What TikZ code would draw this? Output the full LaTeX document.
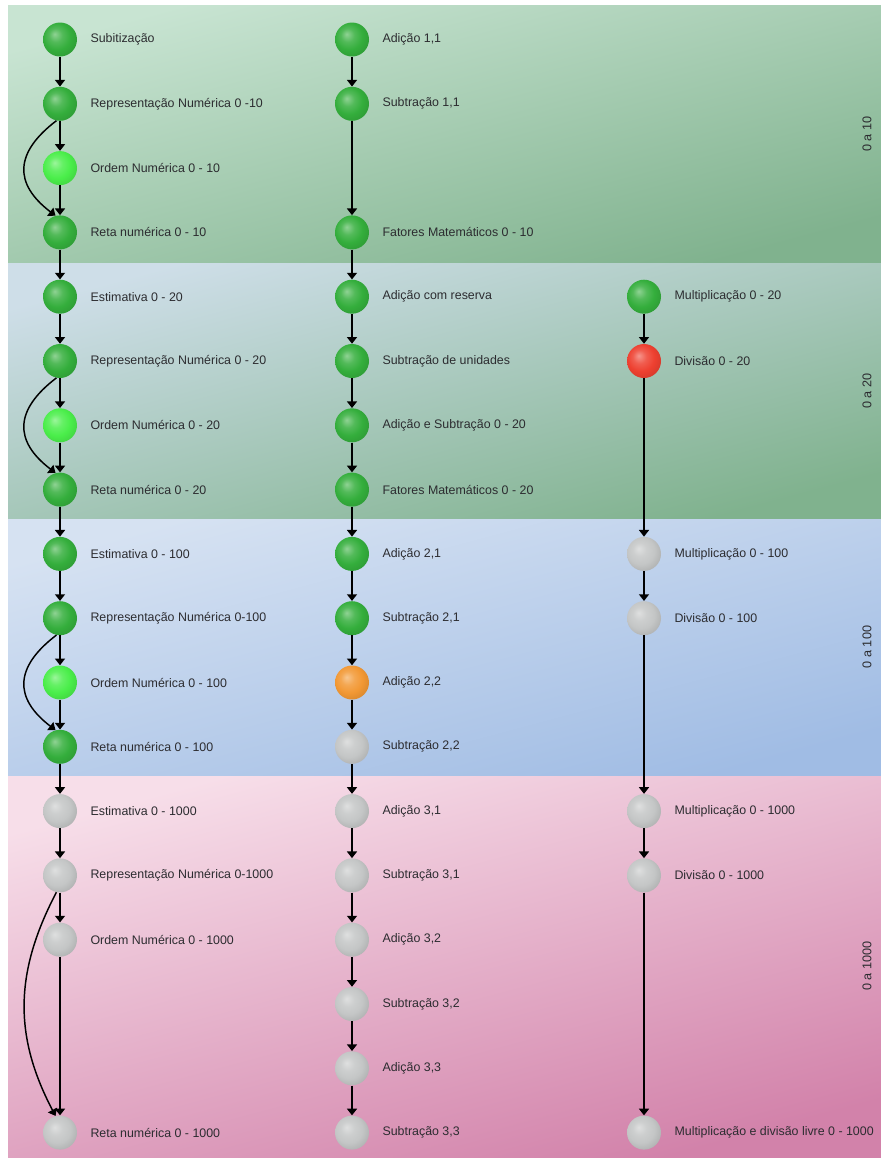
\documentclass[tikz,border=0pt]{standalone}
\usepackage{fontspec}
\setmainfont{Liberation Sans}
\usetikzlibrary{arrows.meta}

% node fill colours
\definecolor{ndgreen}{RGB}{52,174,60}
\definecolor{ndlime}{RGB}{74,238,74}
\definecolor{ndred}{RGB}{238,64,48}
\definecolor{ndorange}{RGB}{242,152,52}
\definecolor{ndgray}{RGB}{196,198,198}
\definecolor{txtgray}{RGB}{44,44,48}
% band gradients
\definecolor{bAtop}{RGB}{200,228,210}
\definecolor{bAbot}{RGB}{128,178,142}
\definecolor{bBtop}{RGB}{206,222,232}
\definecolor{bBbot}{RGB}{128,178,142}
\definecolor{bCtop}{RGB}{214,226,242}
\definecolor{bCbot}{RGB}{160,188,228}
\definecolor{bDtop}{RGB}{247,222,233}
\definecolor{bDbot}{RGB}{210,130,170}

% soft sphere shading that follows the colour "nodecol"
\colorlet{nodecol}{gray}
\pgfdeclareradialshading[nodecol]{softball}{\pgfqpoint{-8bp}{8bp}}{%
  color(0bp)=(nodecol!55!white);
  color(10bp)=(nodecol!85!white);
  color(20bp)=(nodecol);
  color(30bp)=(nodecol!90!black);
  color(50bp)=(nodecol!75!black)}

% a circle plus its text to the right
\newcommand\mknode[5]{%
  \node[ball=#4] (#1) at (#2,{39.5+64.3*#3}) {};
  \node[lbl] (#1-t) at ([xshift=9.75pt]#1.east) {#5};}

\begin{document}
\begin{tikzpicture}[x=0.75pt,y=-0.75pt,
  nodecolor/.code={\colorlet{nodecol}{#1}},
  ball/.style={circle, draw=none, minimum size=25.5pt, inner sep=0pt,
    nodecolor=#1, shading=softball, shade},
  lbl/.style={anchor=west, inner sep=0pt, text=txtgray,
    font=\fontsize{9.3}{11}\selectfont},
  bandlbl/.style={rotate=90, inner sep=0pt, text=txtgray,
    font=\fontsize{9.5}{11}\selectfont},
  arr/.style={draw=black, line width=1.1pt,
    -{Triangle[width=7.5pt,length=5pt]}},
]
\useasboundingbox (0,0) rectangle (881,1158);
\fill[white] (0,0) rectangle (881,1158);

% level bands
\path[top color=bAtop, bottom color=bAbot, shading angle=15] (8,5) rectangle (881,263);
\path[top color=bBtop, bottom color=bBbot, shading angle=15] (8,263) rectangle (881,519);
\path[top color=bCtop, bottom color=bCbot, shading angle=15] (8,519) rectangle (881,776);
\path[top color=bDtop, bottom color=bDbot, shading angle=15] (8,776) rectangle (881,1157);

\node[bandlbl] (lvA) at (867,134) {0 a 10};
\node[bandlbl] (lvB) at (867,391) {0 a 20};
\node[bandlbl] (lvC) at (867,647) {0 a 100};
\node[bandlbl] (lvD) at (867,966) {0 a 1000};

% first column
\mknode{sub}{60}{0}{ndgreen}{Subitização}
\mknode{rep10}{60}{1}{ndgreen}{Representação Numérica 0 -10}
\mknode{ord10}{60}{2}{ndlime}{Ordem Numérica 0 - 10}
\mknode{ret10}{60}{3}{ndgreen}{Reta numérica 0 - 10}
\mknode{est20}{60}{4}{ndgreen}{Estimativa 0 - 20}
\mknode{rep20}{60}{5}{ndgreen}{Representação Numérica 0 - 20}
\mknode{ord20}{60}{6}{ndlime}{Ordem Numérica 0 - 20}
\mknode{ret20}{60}{7}{ndgreen}{Reta numérica 0 - 20}
\mknode{est100}{60}{8}{ndgreen}{Estimativa 0 - 100}
\mknode{rep100}{60}{9}{ndgreen}{Representação Numérica 0-100}
\mknode{ord100}{60}{10}{ndlime}{Ordem Numérica 0 - 100}
\mknode{ret100}{60}{11}{ndgreen}{Reta numérica 0 - 100}
\mknode{est1000}{60}{12}{ndgray}{Estimativa 0 - 1000}
\mknode{rep1000}{60}{13}{ndgray}{Representação Numérica 0-1000}
\mknode{ord1000}{60}{14}{ndgray}{Ordem Numérica 0 - 1000}
\mknode{ret1000}{60}{17}{ndgray}{Reta numérica 0 - 1000}

% second column
\mknode{ad11}{352}{0}{ndgreen}{Adição 1,1}
\mknode{su11}{352}{1}{ndgreen}{Subtração 1,1}
\mknode{fat10}{352}{3}{ndgreen}{Fatores Matemáticos 0 - 10}
\mknode{adres}{352}{4}{ndgreen}{Adição com reserva}
\mknode{suuni}{352}{5}{ndgreen}{Subtração de unidades}
\mknode{adsu20}{352}{6}{ndgreen}{Adição e Subtração 0 - 20}
\mknode{fat20}{352}{7}{ndgreen}{Fatores Matemáticos 0 - 20}
\mknode{ad21}{352}{8}{ndgreen}{Adição 2,1}
\mknode{su21}{352}{9}{ndgreen}{Subtração 2,1}
\mknode{ad22}{352}{10}{ndorange}{Adição 2,2}
\mknode{su22}{352}{11}{ndgray}{Subtração 2,2}
\mknode{ad31}{352}{12}{ndgray}{Adição 3,1}
\mknode{su31}{352}{13}{ndgray}{Subtração 3,1}
\mknode{ad32}{352}{14}{ndgray}{Adição 3,2}
\mknode{su32}{352}{15}{ndgray}{Subtração 3,2}
\mknode{ad33}{352}{16}{ndgray}{Adição 3,3}
\mknode{su33}{352}{17}{ndgray}{Subtração 3,3}

% third column
\mknode{mu20}{644}{4}{ndgreen}{Multiplicação 0 - 20}
\mknode{di20}{644}{5}{ndred}{Divisão 0 - 20}
\mknode{mu100}{644}{8}{ndgray}{Multiplicação 0 - 100}
\mknode{di100}{644}{9}{ndgray}{Divisão 0 - 100}
\mknode{mu1000}{644}{12}{ndgray}{Multiplicação 0 - 1000}
\mknode{di1000}{644}{13}{ndgray}{Divisão 0 - 1000}
\mknode{mdl}{644}{17}{ndgray}{Multiplicação e divisão livre 0 - 1000}

% prerequisite arrows
\foreach \a/\b in {sub/rep10, rep10/ord10, ord10/ret10, ret10/est20,
    est20/rep20, rep20/ord20, ord20/ret20, ret20/est100,
    est100/rep100, rep100/ord100, ord100/ret100, ret100/est1000,
    est1000/rep1000, rep1000/ord1000, ord1000/ret1000,
    ad11/su11, su11/fat10, fat10/adres, adres/suuni, suuni/adsu20,
    adsu20/fat20, fat20/ad21, ad21/su21, su21/ad22, ad22/su22,
    su22/ad31, ad31/su31, su31/ad32, ad32/su32, su32/ad33, ad33/su33,
    mu20/di20, di20/mu100, mu100/di100, di100/mu1000, mu1000/di1000,
    di1000/mdl}
  \draw[arr] (\a) -- (\b);

% shortcuts that skip the ordering step
\draw[arr] (rep10.258) .. controls +(-42,32) and +(-42,-32) .. (ret10.105);
\draw[arr] (rep20.258) .. controls +(-42,32) and +(-42,-32) .. (ret20.105);
\draw[arr] (rep100.258) .. controls +(-42,32) and +(-42,-32) .. (ret100.105);
\draw[arr] (rep1000.258) .. controls +(-42,80) and +(-42,-80) .. (ret1000.105);
\end{tikzpicture}
\end{document}
